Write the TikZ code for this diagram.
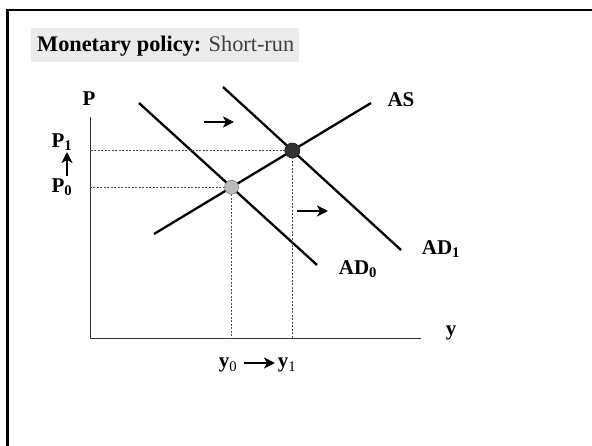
\documentclass[tikz,border=0pt]{standalone}
\usepackage{fontspec}
\setmainfont{Liberation Serif}
\usetikzlibrary{arrows.meta,intersections}
\begin{document}
\begin{tikzpicture}[x=1pt,y=-1pt,
  curve/.style={line width=2.3pt},
  axis/.style={line width=1pt, black!80},
  guide/.style={line width=0.7pt, black!70, dash pattern=on 2pt off 1.5pt},
  shiftarrow/.style={line width=2.5pt, -{Stealth[length=11pt,width=11pt,inset=3pt]}},
  lbl/.style={font=\fontsize{21}{25}\selectfont\bfseries, inner sep=0pt},
  dotlight/.style={circle, minimum size=14pt, inner sep=0pt, fill=black!27, draw=black!50, line width=0.6pt},
  dotdark/.style={circle, minimum size=15pt, inner sep=0pt, fill=black!80, draw=black!90, line width=0.6pt}]
\useasboundingbox (0,0) rectangle (592,446);
\fill[white] (0,0) rectangle (592,446);
% slide frame
\draw[line width=2.6pt] (7.5,450) -- (7.5,10) -- (596,10);
% title
\fill[black!8] (31,28) rectangle (299,62);
\node[anchor=base west, inner sep=0pt, font=\fontsize{22.3}{26}\selectfont] (title) at (37,52)
  {\textbf{Monetary policy:} \textcolor{black!75}{Short-run}};
% axes
\coordinate (O) at (90,339);
\coordinate (ytop) at (90,117);
\coordinate (xend) at (421,339);
\draw[axis] (ytop) -- (O) -- (xend);
% curves
\coordinate (ASa) at (154,234); \coordinate (ASb) at (371,103);
\coordinate (AD0a) at (139,103); \coordinate (AD0b) at (317,265);
\coordinate (AD1a) at (223,87); \coordinate (AD1b) at (401,250);
\draw[curve, name path=AS] (ASa) -- (ASb);
\draw[curve, name path=AD0] (AD0a) -- (AD0b);
\draw[curve, name path=AD1] (AD1a) -- (AD1b);
\path[name intersections={of=AS and AD0, by=E0}];
\path[name intersections={of=AS and AD1, by=E1}];
% guides
\draw[guide] (E0) -- (E0 -| O);
\draw[guide] (E0) -- (E0 |- O);
\draw[guide] (E1) -- (E1 -| O);
\draw[guide] (E1) -- (E1 |- O);
% equilibrium points
\node[dotlight] (e0) at (E0) {};
\node[dotdark] (e1) at (E1) {};
% labels
\node[lbl] (P) at (89,99) {P};
\node[lbl] (P1) at (62,142) {P\textsubscript{1}};
\node[lbl] (P0) at (62,187) {P\textsubscript{0}};
\node[lbl] (AS) at (401,100) {AS};
\node[lbl] (AD1) at (441,249) {AD\textsubscript{1}};
\node[lbl] (AD0) at (358,269) {AD\textsubscript{0}};
\node[lbl] (y) at (451,333) {y};
\node[lbl, anchor=base] (y0) at (228,368) {y\textsubscript{\mdseries 0}};
\node[lbl, anchor=base] (y1) at (287,368) {y\textsubscript{\mdseries 1}};
% shift arrows
\coordinate (pa) at (67,176); \coordinate (pb) at (67,152);
\draw[shiftarrow] (pa) -- (pb);
\coordinate (ta) at (204,122); \coordinate (tb) at (234,122);
\draw[shiftarrow] (ta) -- (tb);
\coordinate (ma) at (297,211); \coordinate (mb) at (328,211);
\draw[shiftarrow] (ma) -- (mb);
\coordinate (ba) at (244,363); \coordinate (bb) at (275,363);
\draw[shiftarrow] (ba) -- (bb);
\end{tikzpicture}
\end{document}
